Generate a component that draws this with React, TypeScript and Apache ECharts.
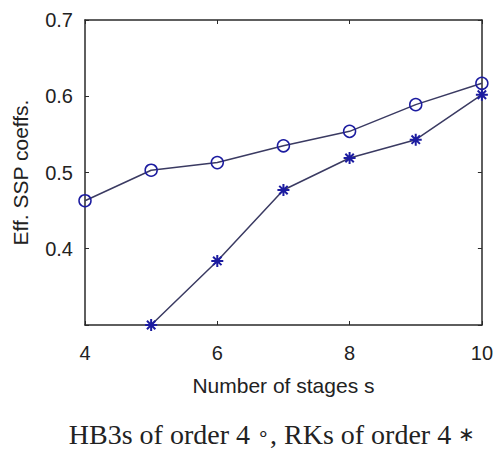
import React, { useEffect, useRef } from "react";
import * as echarts from "echarts";

const hbStages = [4, 5, 6, 7, 8, 9, 10];
const hbValues = [0.463, 0.503, 0.513, 0.535, 0.554, 0.589, 0.617];
const rkStages = [5, 6, 7, 8, 9, 10];
const rkValues = [0.3, 0.384, 0.477, 0.519, 0.543, 0.602];
const xTicks = [4, 6, 8, 10];
const yTicks = [0.4, 0.5, 0.6, 0.7];

const LINE = "#3a3a62";
const MARK = "#1c1ca0";
const AX = "#2a2a2a";
const SANS = "'Liberation Sans', Arial, sans-serif";
const SERIF = "'Liberation Serif', 'Times New Roman', serif";

export default function App() {
  const ref = useRef<HTMLDivElement>(null);
  useEffect(() => {
    if (!ref.current) return;
    const chart = echarts.init(ref.current, undefined, { renderer: "svg" });
    const axisCommon = {
      axisLine: { show: true, lineStyle: { color: AX, width: 1.5 } },
      axisTick: { show: true, inside: true, length: 4, lineStyle: { color: AX, width: 1 } },
      splitLine: { show: false },
    };
    chart.setOption({
      animation: false,
      backgroundColor: "#ffffff",
      grid: { left: 85, right: 11, top: 20, bottom: 125, containLabel: false },
      xAxis: [
        {
          type: "value",
          position: "bottom",
          min: 4,
          max: 10,
          interval: 2,
          ...axisCommon,
          axisLabel: {
            fontSize: 20,
            fontFamily: SANS,
            color: "#222",
            margin: 18,
            formatter: (v: number) => (xTicks.includes(v) ? String(v) : ""),
          },
          name: "Number of stages s",
          nameLocation: "middle",
          nameGap: 50,
          nameTextStyle: { fontSize: 21, fontFamily: SANS, color: "#222" },
        },
        {
          type: "value",
          position: "top",
          min: 4,
          max: 10,
          interval: 2,
          ...axisCommon,
          axisLabel: { show: false },
        },
      ],
      yAxis: [
        {
          type: "value",
          position: "left",
          min: 0.3,
          max: 0.7,
          interval: 0.1,
          ...axisCommon,
          axisLabel: {
            fontSize: 20,
            fontFamily: SANS,
            color: "#222",
            margin: 12,
            formatter: (v: number) => {
              const r = Math.round(v * 10) / 10;
              return yTicks.some((t) => Math.abs(t - r) < 1e-9) ? r.toFixed(1) : "";
            },
          },
          name: "Eff. SSP coeffs.",
          nameLocation: "middle",
          nameGap: 54,
          nameTextStyle: { fontSize: 21, fontFamily: SANS, color: "#222" },
        },
        {
          type: "value",
          position: "right",
          min: 0.3,
          max: 0.7,
          interval: 0.1,
          ...axisCommon,
          axisLabel: { show: false },
        },
      ],
      series: [
        {
          type: "line",
          data: hbStages.map((s, i) => [s, hbValues[i]]),
          symbol: "circle",
          symbolSize: 12,
          clip: false,
          lineStyle: { color: LINE, width: 1.5 },
          itemStyle: { color: "none", borderColor: MARK, borderWidth: 1.5 },
          z: 3,
        },
        {
          type: "line",
          data: rkStages.map((s, i) => [s, rkValues[i]]),
          symbol: "path://M5,0L5,10M0,5L10,5M1.5,1.5L8.5,8.5M1.5,8.5L8.5,1.5",
          symbolSize: 12,
          clip: false,
          lineStyle: { color: LINE, width: 1.5 },
          itemStyle: { color: "none", borderColor: MARK, borderWidth: 2 },
          z: 3,
        },
      ],
      graphic: [
        {
          type: "text",
          x: 272,
          y: 434,
          style: {
            text: "{a|HB3s of order 4 }{s|∘}{a|, RKs of order 4 }{s|∗}",
            rich: {
              a: { font: `28px ${SERIF}`, fill: "#222" },
              s: { font: `20px ${SERIF}`, fill: "#222" },
            },
            fill: "#222",
            align: "center",
            verticalAlign: "middle",
          },
        },
      ],
    });
    return () => chart.dispose();
  }, []);
  return <div ref={ref} style={{ width: 496, height: 450, position: "absolute", left: 0, top: 0 }} />;
}
